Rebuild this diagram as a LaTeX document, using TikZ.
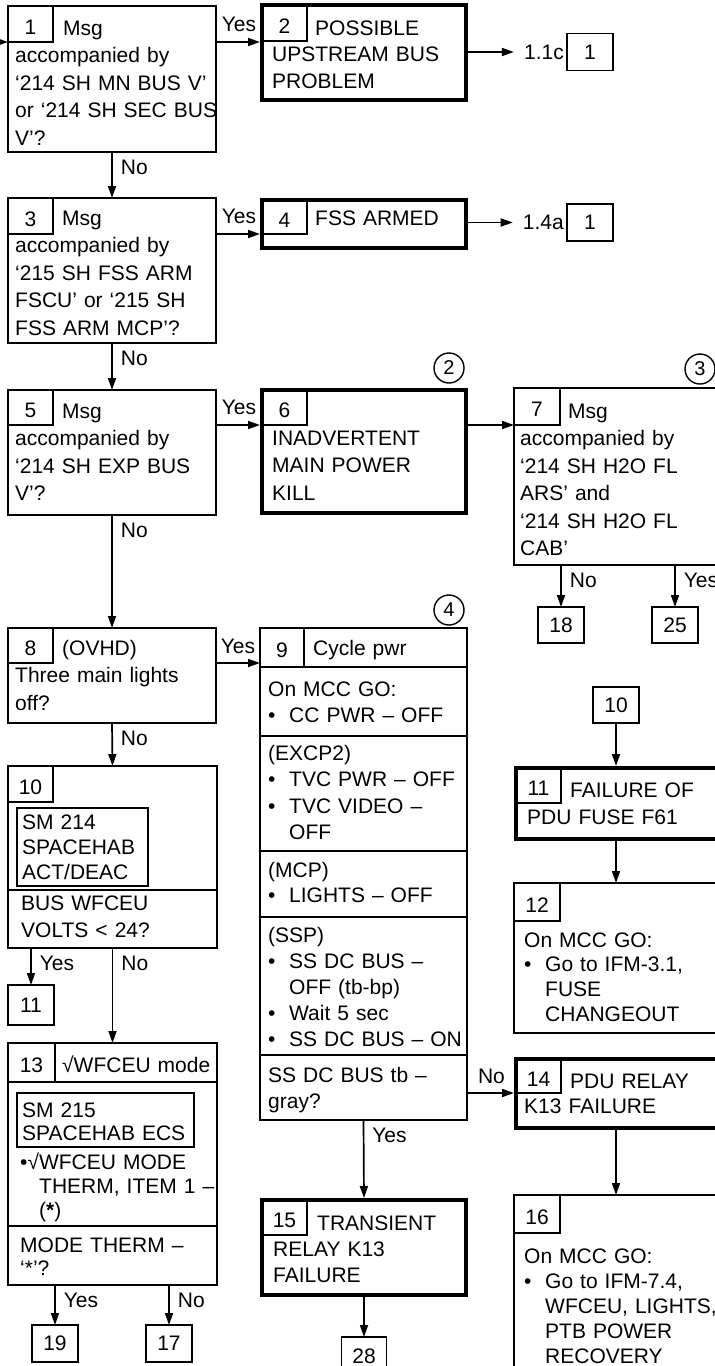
\documentclass[tikz,border=0pt]{standalone}
\usepackage{fontspec}
\setmainfont{Liberation Sans}
\usetikzlibrary{arrows.meta, positioning}

\newcommand\itm{\makebox[21pt][l]{•}}
\newcommand\ind{\hspace*{21pt}}

\begin{document}
\begin{tikzpicture}[
        x=1pt, y=-1pt,
        thinline/.style={line width=1.7pt},
        qbox/.style={draw, thinline, outer sep=0pt, inner sep=0pt, anchor=north west},
        abox/.style={qbox, line width=4.5pt},
        numcell/.style={draw, thinline, outer sep=0pt, inner sep=0pt, anchor=north west, minimum width=45pt, minimum height=36pt, text height=20pt, text depth=0pt, font=\fontsize{21pt}{25pt}\selectfont},
        refbox/.style={draw, thinline, outer sep=0pt, inner sep=0pt, minimum width=46pt, minimum height=37pt, font=\fontsize{21pt}{25pt}\selectfont},
        txt/.style={anchor=base west, align=left, inner sep=0pt, text width=250pt, font=\fontsize{21pt}{#1}\selectfont},
        txt/.default=27.5pt,
        lbl/.style={inner sep=0pt, font=\fontsize{21pt}{25pt}\selectfont},
        vlbl/.style={lbl, pos=0, anchor=north west, xshift=8pt, yshift=-7pt},
        arr/.style={thinline, -{Triangle[length=12pt,width=8pt]}},
        circ/.style={draw, circle, line width=1.4pt, minimum size=30pt, inner sep=0pt, font=\fontsize{20pt}{24pt}\selectfont}
    ]
    \useasboundingbox (0,0) rectangle (715,1366);
    \clip (0,0) rectangle (715,1366);

    % left column
    \node[qbox, minimum width=208pt, minimum height=146pt] (q1) at (8,6) {};
    \node[numcell] (c1) at (8,6) {1};
    \node[txt] (t1) at (15,35) {\hspace*{48pt}Msg\\accompanied by\\‘214 SH MN BUS V’\\or ‘214 SH SEC BUS\\V’?};

    \node[qbox, minimum width=208pt, minimum height=145pt] (q3) at (8,198) {};
    \node[numcell] (c3) at (8,198) {3};
    \node[txt] (t3) at (15,225) {\hspace*{47pt}Msg\\accompanied by\\‘215 SH FSS ARM\\FSCU’ or ‘215 SH\\FSS ARM MCP’?};

    \node[qbox, minimum width=208pt, minimum height=125pt] (q5) at (8,390) {};
    \node[numcell, minimum height=35pt] (c5) at (8,390) {5};
    \node[txt] (t5) at (15,418) {\hspace*{47pt}Msg\\accompanied by\\‘214 SH EXP BUS\\V’?};

    \node[qbox, minimum width=208pt, minimum height=95pt] (q8) at (8,628) {};
    \node[numcell, minimum height=35pt] (c8) at (8,628) {8};
    \node[txt] (t8) at (15,655) {\hspace*{47pt}(OVHD)\\Three main lights\\off?};

    \node[qbox, minimum width=209pt, minimum height=182pt] (q10) at (8,766) {};
    \node[numcell] (c10) at (8,766) {10};
    \node[qbox, minimum width=131pt, minimum height=78pt] (i10) at (17,808) {};
    \node[txt=25pt] (t10) at (22,829.5) {SM 214\\SPACEHAB\\ACT/DEAC};
    \draw[thinline] (q10.west |- 0,890) -- (q10.east |- 0,890);
    \node[txt] (u10) at (21,910) {BUS WFCEU\\VOLTS < 24?};
    \node[refbox, minimum height=40pt] (b11) at (31,1005) {11};

    \node[qbox, minimum width=209pt, minimum height=242pt] (q13) at (8,1043) {};
    \node[numcell, minimum width=47pt, minimum height=39pt] (c13) at (8,1043) {13};
    \node[txt] (t13) at (62,1072) {√WFCEU mode};
    \draw[thinline] (q13.west |- 0,1082) -- (q13.east |- 0,1082);
    \node[qbox, minimum width=177pt, minimum height=54pt] (i13) at (17,1093) {};
    \node[txt=23.5pt] (u13) at (22,1117) {SM 215\\SPACEHAB ECS};
    \node[txt=24pt] (v13) at (20,1169) {•√WFCEU MODE\\\hspace*{19pt}THERM, ITEM 1 –\\\hspace*{19pt}(\textbf{*})};
    \draw[thinline] (q13.west |- 0,1226) -- (q13.east |- 0,1226);
    \node[txt=23pt] (w13) at (20,1252) {MODE THERM –\\‘*’?};
    \node[refbox] (b19) at (55,1343.5) {19};
    \node[refbox] (b17) at (169,1343.5) {17};

    % middle column
    \node[abox, minimum width=204pt, minimum height=95pt] (q2) at (262,5) {};
    \node[numcell] (c2) at (262,5) {2};
    \node[txt=26.5pt] (t2) at (272,35) {\hspace*{43pt}POSSIBLE\\UPSTREAM BUS\\PROBLEM};
    \node[refbox] (r2) at (590,52) {1};
    \node[lbl, left=3pt of r2] (g2) {1.1c};

    \node[abox, minimum width=204pt, minimum height=48pt] (q4) at (262,200) {};
    \node[numcell, minimum height=34pt] (c4) at (262,200) {4};
    \node[txt] (t4) at (272,225) {\hspace*{43pt}FSS ARMED};
    \node[refbox] (r4) at (590,222.5) {1};
    \node[lbl, left=3pt of r4] (g4) {1.4a};

    \node[abox, minimum width=204pt, minimum height=123pt] (q6) at (262,390) {};
    \node[numcell, minimum height=35pt] (c6) at (262,390) {6};
    \node[txt] (t6) at (272,445) {INADVERTENT\\MAIN POWER\\KILL};
    \node[circ] (k2) at (449,368) {2};

    \node[qbox, minimum width=207pt, minimum height=492pt] (q9) at (260,628) {};
    \node[numcell, minimum width=44pt, minimum height=39pt] (c9) at (260,628) {9};
    \node[txt] (t9) at (313,655) {Cycle pwr};
    \foreach \yy in {667,736,851,917,1055}
        \draw[thinline] (q9.west |- 0,\yy) -- (q9.east |- 0,\yy);
    \node[txt=26pt] (s1) at (268,696) {On MCC GO:\\\itm CC PWR – OFF};
    \node[txt=26.5pt] (s2) at (268,760) {(EXCP2)\\\itm TVC PWR – OFF\\\itm TVC VIDEO –\\\ind OFF};
    \node[txt=25pt] (s3) at (268,877) {(MCP)\\\itm LIGHTS – OFF};
    \node[txt=26pt] (s4) at (268,942) {(SSP)\\\itm SS DC BUS –\\\ind OFF (tb-bp)\\\itm Wait 5 sec\\\itm SS DC BUS – ON};
    \node[txt=26pt] (s5) at (268,1082) {SS DC BUS tb –\\gray?};
    \node[circ] (k4) at (449,610) {4};

    \node[abox, minimum width=204pt, minimum height=95pt] (q15) at (262,1200) {};
    \node[numcell, minimum height=35pt] (c15) at (262,1200) {15};
    \node[txt=26pt] (t15) at (273,1230) {\hspace*{44pt}TRANSIENT\\RELAY K13\\FAILURE};
    \node[refbox, minimum width=45pt, minimum height=38pt] (b28) at (364,1356) {28};

    % right column
    \node[qbox, minimum width=204pt, minimum height=177pt] (q7) at (514,388) {};
    \node[numcell, minimum width=46pt, minimum height=37pt] (c7) at (514,388) {7};
    \node[txt] (t7) at (520,418) {\hspace*{48pt}Msg\\accompanied by\\‘214 SH H2O FL\\ARS’ and\\‘214 SH H2O FL\\CAB’};
    \node[circ] (k3) at (700,369) {3};
    \node[refbox, minimum height=36pt] (b18) at (561,625) {18};
    \node[refbox, minimum height=36pt] (b25) at (675,625) {25};

    \node[refbox, minimum height=36pt] (b10) at (616,705) {10};
    \node[abox, minimum width=204pt, minimum height=71pt] (q11) at (516,768) {};
    \node[numcell, minimum height=35pt] (c11) at (516,768) {11};
    \node[txt=27pt] (t11) at (527,797) {\hspace*{43pt}FAILURE OF\\PDU FUSE F61};

    \node[qbox, minimum width=204pt, minimum height=150pt] (q12) at (514,883) {};
    \node[numcell, minimum width=46pt, minimum height=38pt] (c12) at (514,883) {12};
    \node[txt=24.7pt] (t12) at (524,947) {On MCC GO:\\\itm Go to IFM-3.1,\\\ind FUSE\\\ind CHANGEOUT};

    \node[abox, minimum width=204pt, minimum height=69pt] (q14) at (516,1059) {};
    \node[numcell, minimum height=34pt] (c14) at (516,1059) {14};
    \node[txt=25pt] (t14) at (524,1088) {\hspace*{46pt}PDU RELAY\\K13 FAILURE};

    \node[qbox, minimum width=204pt, minimum height=200pt] (q16) at (514,1195) {};
    \node[numcell, minimum width=46pt, minimum height=38pt] (c16) at (514,1195) {16};
    \node[txt=25pt] (t16) at (524,1263) {On MCC GO:\\\itm Go to IFM-7.4,\\\ind WFCEU, LIGHTS,\\\ind PTB POWER\\\ind RECOVERY};

    % connectors
    \coordinate (entry) at (-20,42);
    \draw[arr] (entry) -- (entry -| q1.west);
    \draw[arr, shorten >=2pt] (c1.south -| q1.east) -- node[lbl, above=9pt] (y1) {Yes} (c1.south -| q2.west);
    \draw[arr] (g2.west -| q2.east) -- ([xshift=-10pt]g2.west);
    \draw[arr] (q1.south) -- node[vlbl] (n1) {No} (q3.north);
    \draw[arr, shorten >=2pt] (c3.south -| q3.east) -- node[lbl, above=9pt] (y3) {Yes} (c3.south -| q4.west);
    \draw[arr] (g4.west -| q4.east) -- ([xshift=-10pt]g4.west);
    \draw[arr] (q3.south) -- node[vlbl] (n3) {No} (q5.north);
    \draw[arr, shorten >=2pt] (c5.south -| q5.east) -- node[lbl, above=9pt] (y5) {Yes} (c5.south -| q6.west);
    \draw[arr] (c6.south -| q6.east) -- (c6.south -| q7.west);
    \draw[arr] (b18.north |- q7.south) -- node[vlbl] (n7) {No} (b18.north);
    \draw[arr] (b25.north |- q7.south) -- node[vlbl] (y7) {Yes} (b25.north);
    \draw[arr] (q5.south) -- node[vlbl] (n5) {No} (q8.north);
    \draw[arr] (c8.south -| q8.east) -- node[lbl, above=8pt] (y8) {Yes} (c8.south -| q9.west);
    \draw[arr] (q8.south) -- node[vlbl] (n8) {No} (q10.north);
    \draw[arr] (b11.north |- q10.south) -- node[vlbl] (y10) {Yes} (b11.north);
    \draw[arr] (q10.south) -- node[vlbl] (n10) {No} (q13.north);
    \draw[arr] (b19.north |- q13.south) -- node[vlbl] (y13) {Yes} (b19.north);
    \draw[arr] (b17.north |- q13.south) -- node[vlbl] (n13) {No} (b17.north);
    \draw[arr, shorten >=2pt] (q9.south) -- node[vlbl] (y9) {Yes} (q15.north);
    \draw[arr] (q15.south) -- (q15.south |- b28.north);
    \draw[arr, shorten >=2pt] (c14.south -| q9.east) -- node[lbl, above=8pt] (n9) {No} (c14.south -| q14.west);
    \draw[arr, shorten >=2pt] (b10.south) -- (b10.south |- q11.north);
    \draw[arr] (q12.north |- q11.south) -- (q12.north);
    \draw[arr] (q16.north |- q14.south) -- (q16.north);
\end{tikzpicture}
\end{document}
